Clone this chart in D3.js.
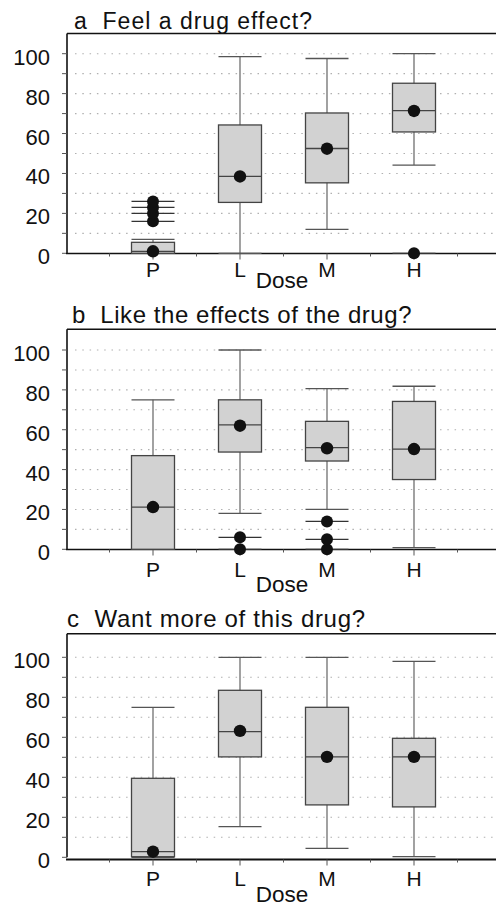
<!DOCTYPE html>
<html>
<head>
<meta charset="utf-8">
<script src="https://cdn.jsdelivr.net/npm/d3@7"></script>
<style>
	body { margin: 0; background: #fff; }
	svg { display: block; }
	text { font-family: "Liberation Sans", Arial, sans-serif; fill: #111; white-space: pre; }
</style>
</head>
<body>
<svg id="chart" width="496" height="906"></svg>
<script>
(function (d3) {
	"use strict";

	/***** Data *****/

	// Dose groups
	var doses = ["P", "L", "M", "H"];

	// Panel titles
	var titles = ["a  Feel a drug effect?", "b  Like the effects of the drug?", "c  Want more of this drug?"];

	// Box statistics per panel, one entry per dose: [lowWhisker, q1, median, q3, highWhisker]
	var feelBoxes = [[0, 0, 1, 5.5, 7], [0, 25.5, 38.5, 64.3, 98.5], [12, 35.3, 52.5, 70.3, 97.6], [44.2, 60.8, 71.5, 85.2, 100]];
	var likeBoxes = [[0, 0, 21.2, 47, 75], [18, 48.8, 62.4, 75, 100], [20, 44.3, 51, 64.2, 80.6], [0.8, 35, 50.3, 74.2, 81.8]];
	var wantBoxes = [[0, 0.3, 2.8, 39.5, 75], [15.3, 50.2, 62.8, 83.5, 100], [4.5, 26.2, 50.2, 75, 100], [0.3, 25.2, 50.2, 59.5, 98]];

	// Dot marker per dose
	var feelDots = [1, 38.5, 52.4, 71.3];
	var likeDots = [21.2, 62, 50.7, 50.3];
	var wantDots = [2.8, 63.2, 50.2, 50.2];

	// Outliers per dose
	var feelOutliers = [[16, 20, 23, 26], [], [], [0]];
	var likeOutliers = [[], [0, 6], [0, 5, 14], []];
	var wantOutliers = [[], [], [], []];

	// Y tick labels
	var yTicks = [0, 20, 40, 60, 80, 100];
	var yMinor = [0, 10, 20, 30, 40, 50, 60, 70, 80, 90, 100];

	/***** Layout *****/
	var width = 496;
	var left = 67;
	var boxHalf = 21.5;

	var panels = [
		{ title: titles[0], boxes: feelBoxes, dots: feelDots, outliers: feelOutliers,
		  top: 33.5, y0: 253.3, y100: 53.7, axisY: 253.5, axisW: 1.5,
		  titleX: 74, titleY: 29.3, titleSize: 23, titleSpacing: 1.0, catY: 277, doseY: 288 },
		{ title: titles[1], boxes: likeBoxes, dots: likeDots, outliers: likeOutliers,
		  top: 329.3, y0: 549.3, y100: 350, axisY: 549.5, axisW: 1.5,
		  titleX: 72, titleY: 323.3, titleSize: 24, titleSpacing: 0.55, catY: 577, doseY: 592 },
		{ title: titles[2], boxes: wantBoxes, dots: wantDots, outliers: wantOutliers,
		  top: 633.7, y0: 857.3, y100: 657.3, axisY: 859.5, axisW: 2,
		  titleX: 67, titleY: 626.7, titleSize: 24, titleSpacing: 0.7, catY: 886, doseY: 902 }
	];

	// x: dose positions 1..4, boundaries at half steps
	var x = d3.scaleLinear().domain([0, 5]).range([66, 501]);

	var svg = d3.select("#chart");

	panels.forEach(function (p) {
		var y = d3.scaleLinear().domain([0, 100]).range([p.y0, p.y100]);
		var g = svg.append("g");

		// Dotted grid
		g.selectAll("line.grid")
			.data(yMinor.filter(function (v) { return v > 0; }))
			.enter().append("line")
			.attr("class", "grid")
			.attr("x1", left + 8).attr("x2", width)
			.attr("y1", function (v) { return y(v); })
			.attr("y2", function (v) { return y(v); })
			.attr("stroke", "#b0b0b0")
			.attr("stroke-width", 1.1)
			.attr("stroke-dasharray", "1.5,5.8");

		// Title and top rule
		g.append("text")
			.attr("x", p.titleX).attr("y", p.titleY)
			.attr("font-size", p.titleSize)
			.attr("letter-spacing", p.titleSpacing)
			.text(p.title);
		g.append("line")
			.attr("x1", left).attr("x2", width)
			.attr("y1", p.top).attr("y2", p.top)
			.attr("stroke", "#111").attr("stroke-width", 1.6);

		// Y axis
		g.append("line")
			.attr("x1", left).attr("x2", left)
			.attr("y1", p.top).attr("y2", p.y0)
			.attr("stroke", "#111").attr("stroke-width", 1.6);
		g.selectAll("line.ytick")
			.data(yMinor)
			.enter().append("line")
			.attr("class", "ytick")
			.attr("x1", left - 5).attr("x2", left)
			.attr("y1", function (v) { return y(v); })
			.attr("y2", function (v) { return y(v); })
			.attr("stroke", "#555").attr("stroke-width", 1);
		g.selectAll("text.ylab")
			.data(yTicks)
			.enter().append("text")
			.attr("class", "ylab")
			.attr("x", 50)
			.attr("y", function (v) { return y(v) + 11; })
			.attr("text-anchor", "end")
			.attr("font-size", 22)
			.text(function (v) { return v; });

		// X axis
		g.append("line")
			.attr("x1", left - 1).attr("x2", width)
			.attr("y1", p.axisY).attr("y2", p.axisY)
			.attr("stroke", "#111").attr("stroke-width", p.axisW);
		var xTicks = d3.range(0.5, 5, 0.5);
		g.selectAll("line.xtick")
			.data(xTicks)
			.enter().append("line")
			.attr("class", "xtick")
			.attr("x1", function (v) { return x(v); })
			.attr("x2", function (v) { return x(v); })
			.attr("y1", p.axisY)
			.attr("y2", function (v) { return p.axisY + (v % 1 === 0 ? 6 : 3); })
			.attr("stroke", "#555").attr("stroke-width", 1);
		g.selectAll("text.xlab")
			.data(doses)
			.enter().append("text")
			.attr("class", "xlab")
			.attr("x", function (d, i) { return x(i + 1); })
			.attr("y", p.catY)
			.attr("text-anchor", "middle")
			.attr("font-size", 21)
			.text(function (d) { return d; });
		g.append("text")
			.attr("x", 282).attr("y", p.doseY)
			.attr("text-anchor", "middle")
			.attr("font-size", 22.5)
			.text("Dose");

		// Boxes
		p.boxes.forEach(function (b, i) {
			var cx = x(i + 1);
			var bg = g.append("g");

			// whisker stem
			bg.append("line")
				.attr("x1", cx).attr("x2", cx)
				.attr("y1", y(b[0])).attr("y2", y(b[4]))
				.attr("stroke", "#555").attr("stroke-width", 1.1);
			// caps
			[b[0], b[4]].forEach(function (v) {
				bg.append("line")
					.attr("x1", cx - boxHalf).attr("x2", cx + boxHalf)
					.attr("y1", y(v)).attr("y2", y(v))
					.attr("stroke", "#555").attr("stroke-width", 1.3);
			});
			// box
			bg.append("rect")
				.attr("x", cx - boxHalf)
				.attr("y", y(b[3]))
				.attr("width", boxHalf * 2)
				.attr("height", Math.max(y(b[1]) - y(b[3]), 0.5))
				.attr("fill", "#d2d2d2")
				.attr("stroke", "#444").attr("stroke-width", 1.3);
			// median
			bg.append("line")
				.attr("x1", cx - boxHalf).attr("x2", cx + boxHalf)
				.attr("y1", y(b[2])).attr("y2", y(b[2]))
				.attr("stroke", "#444").attr("stroke-width", 1.3);

			// outliers: line + dot
			p.outliers[i].forEach(function (v) {
				bg.append("line")
					.attr("x1", cx - boxHalf).attr("x2", cx + boxHalf)
					.attr("y1", y(v)).attr("y2", y(v))
					.attr("stroke", "#333").attr("stroke-width", 1.3);
				bg.append("circle")
					.attr("cx", cx).attr("cy", y(v)).attr("r", 6)
					.attr("fill", "#111");
			});

			// dot marker
			bg.append("circle")
				.attr("cx", cx).attr("cy", y(p.dots[i])).attr("r", 6.2)
				.attr("fill", "#111");
		});
	});

})(d3);
</script>
</body>
</html>
